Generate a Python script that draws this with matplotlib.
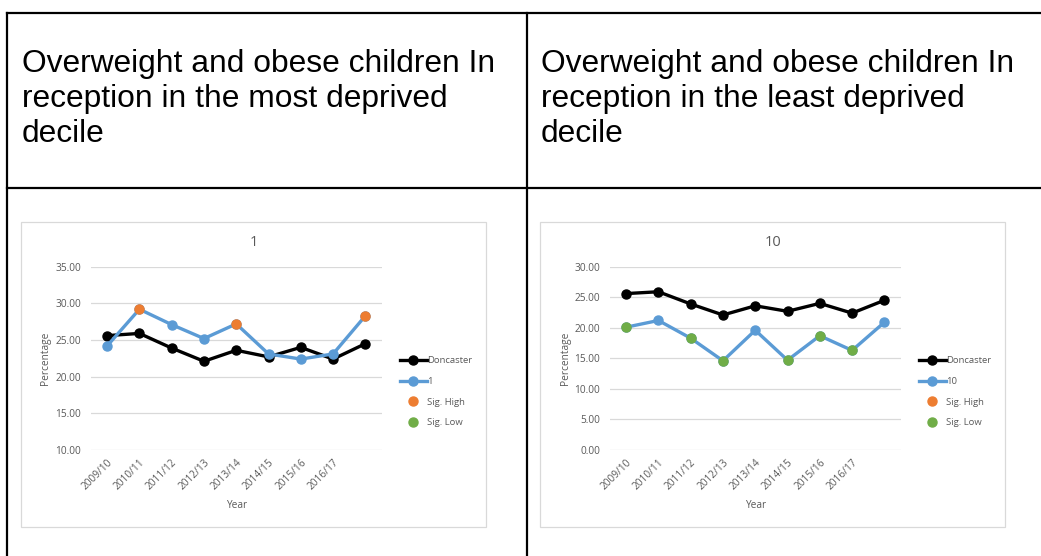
import matplotlib
matplotlib.use('Agg')
import matplotlib.pyplot as plt
from matplotlib.lines import Line2D
from matplotlib.patches import Rectangle

W, H = 1041, 556

years = ['2009/10', '2010/11', '2011/12', '2012/13', '2013/14',
         '2014/15', '2015/16', '2016/17', '']
doncaster = [25.6, 25.9, 23.9, 22.1, 23.6, 22.7, 24.0, 22.4, 24.5]
decile_1 = [24.2, 29.2, 27.1, 25.2, 27.2, 23.1, 22.4, 23.1, 28.3]
decile_10 = [20.1, 21.2, 18.3, 14.6, 19.6, 14.7, 18.7, 16.3, 20.9]
sig_1 = ['', 'high', '', '', 'high', '', '', '', 'high']
sig_10 = ['low', '', 'low', 'low', '', 'low', 'low', 'low', '']

headers = ['Overweight and obese children In\nreception in the most deprived\ndecile',
           'Overweight and obese children In\nreception in the least deprived\ndecile']

BLACK = '#000000'
BLUE = '#5b9bd5'
ORANGE = '#ed7d31'
GREEN = '#70ad47'
GREY = '#595959'
GRID = '#d9d9d9'
CHART_FONT = 'Open Sans'


def box(x, y, w, h):
    # pixel box (top-left origin) -> figure fraction rect
    return [x / W, 1 - (y + h) / H, w / W, h / H]


def fx(x):
    return x / W


def fy(y):
    return 1 - y / H


fig = plt.figure(figsize=(W / 100, H / 100), dpi=100)
fig.patch.set_facecolor('white')

# table rules
lw = 1.6
fig.add_artist(Line2D([fx(7), fx(1041)], [fy(13), fy(13)], color='black', lw=lw))
fig.add_artist(Line2D([fx(7), fx(1041)], [fy(188), fy(188)], color='black', lw=lw))
fig.add_artist(Line2D([fx(7), fx(7)], [fy(13), fy(556)], color='black', lw=lw))
fig.add_artist(Line2D([fx(527), fx(527)], [fy(13), fy(556)], color='black', lw=lw))

# header cells
for x0, txt in zip([22, 541], headers):
    fig.text(fx(x0), fy(99), txt, ha='left', va='center', fontsize=22.9,
             family='Liberation Sans', color='black', linespacing=1.2)


def draw_chart(x0, series, sig, name, ymin, ymax):
    # chart frame
    fig.add_artist(Rectangle((fx(x0), fy(527)), fx(465), 305 / H,
                             transform=fig.transFigure, fill=False,
                             edgecolor=GRID, lw=0.9))
    ax = fig.add_axes(box(x0 + 70, 266.7, 290.5, 183.3))
    xs = range(len(years))
    ax.plot(xs, doncaster, color=BLACK, lw=2.4, marker='o', ms=6.5, zorder=3)
    ax.plot(xs, series, color=BLUE, lw=2.4, marker='o', ms=6.5, zorder=4)
    hx = [i for i, s in enumerate(sig) if s == 'high']
    lx = [i for i, s in enumerate(sig) if s == 'low']
    ax.plot(hx, [series[i] for i in hx], 'o', color=ORANGE, ms=6.5, zorder=5)
    ax.plot(lx, [series[i] for i in lx], 'o', color=GREEN, ms=6.5, zorder=5)

    ax.set_xlim(-0.5, len(years) - 0.5)
    ax.set_ylim(ymin, ymax)
    ax.set_yticks(range(ymin, ymax + 1, 5))
    ax.set_yticklabels([f'{v:.2f}' for v in range(ymin, ymax + 1, 5)],
                       fontsize=7.3, color=GREY, family=CHART_FONT)
    ax.set_xticks(list(xs))
    ax.set_xticklabels(years, rotation=45, ha='right', rotation_mode='anchor',
                       fontsize=7.3, color=GREY, family=CHART_FONT)
    ax.tick_params(length=0, axis='y', pad=7)
    ax.tick_params(length=0, axis='x', pad=5)
    ax.grid(axis='y', color=GRID, lw=0.9)
    ax.set_axisbelow(True)
    for sp in ax.spines.values():
        sp.set_visible(False)
    ax.set_facecolor('none')

    fig.text(fx(x0 + 233), fy(242), name, ha='center', va='center',
             fontsize=10.5, color=GREY, family=CHART_FONT)
    fig.text(fx(x0 + 216), fy(505), 'Year', ha='center', va='center',
             fontsize=7.3, color=GREY, family=CHART_FONT)
    fig.text(fx(x0 + 25), fy(358), 'Percentage', ha='center', va='center',
             rotation=90, fontsize=7.3, color=GREY, family=CHART_FONT)

    handles = [
        Line2D([], [], color=BLACK, lw=2.4, marker='o', ms=6.5),
        Line2D([], [], color=BLUE, lw=2.4, marker='o', ms=6.5),
        Line2D([], [], color=ORANGE, lw=0, marker='o', ms=6.5),
        Line2D([], [], color=GREEN, lw=0, marker='o', ms=6.5),
    ]
    leg = fig.legend(handles, ['Doncaster', name, 'Sig. High', 'Sig. Low'],
                     loc='upper left', bbox_to_anchor=(fx(x0 + 379), fy(356)),
                     frameon=False, handlelength=2.85, handletextpad=0.0,
                     labelspacing=1.25, borderpad=0, borderaxespad=0,
                     prop={'family': CHART_FONT, 'size': 6.8})
    for t in leg.get_texts():
        t.set_color(GREY)


draw_chart(21, decile_1, sig_1, '1', 10, 35)
draw_chart(540, decile_10, sig_10, '10', 0, 30)

fig.savefig('out.png', dpi=100, facecolor='white')
